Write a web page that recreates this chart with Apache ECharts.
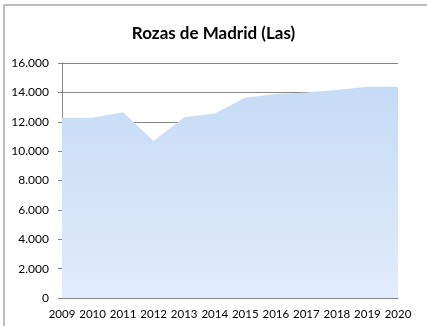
<!DOCTYPE html>
<html>
<head>
<meta charset="utf-8">
<script src="https://cdn.jsdelivr.net/npm/echarts@6/dist/echarts.min.js"></script>
<style>
  html, body { margin: 0; padding: 0; background: #fff; }
  #frame { position: absolute; left: 3px; top: 4px; width: 430px; height: 330px;
           border-left: 2px solid #bdbdbd; border-top: 2px solid #bdbdbd; box-sizing: border-box; }
  #chart { position: absolute; left: 0; top: 0; width: 427px; height: 326px; }
</style>
</head>
<body>
<div id="frame"></div>
<div id="chart"></div>
<script>
// Population by year
const years = ['2009', '2010', '2011', '2012', '2013', '2014', '2015', '2016', '2017', '2018', '2019', '2020'];
const population = [12280, 12270, 12640, 10690, 12300, 12570, 13640, 13890, 14000, 14160, 14390, 14390];
const yTicks = { min: 0, max: 16000, step: 2000 };

const font = 'Lato, "Open Sans", sans-serif';
const chart = echarts.init(document.getElementById('chart'), null, { renderer: 'canvas' });
chart.setOption({
  animation: false,
  title: {
    text: 'Rozas de Madrid (Las)',
    left: 'center',
    top: 20,
    textStyle: { fontFamily: font, fontSize: 17, fontWeight: 'bold', color: '#000' }
  },
  grid: { left: 62, right: 29, top: 63, bottom: 28 },
  xAxis: {
    type: 'category',
    data: years,
    boundaryGap: false,
    axisLine: { lineStyle: { color: '#868686', width: 1 } },
    axisTick: { show: false },
    axisLabel: { color: '#000', fontFamily: font, fontSize: 11.5, margin: 10, interval: 0 },
    splitLine: { show: false }
  },
  yAxis: {
    type: 'value',
    min: yTicks.min,
    max: yTicks.max,
    interval: yTicks.step,
    axisLine: { show: true, lineStyle: { color: '#868686', width: 1 } },
    axisTick: { show: true, length: 4, lineStyle: { color: '#868686' } },
    axisLabel: {
      color: '#000', fontFamily: font, fontSize: 12, margin: 13,
      formatter: v => v === 0 ? '0' : String(v).replace(/(\d)(?=(\d{3})+$)/g, '$1.')
    },
    splitLine: { show: true, lineStyle: { color: '#868686', width: 1 } }
  },
  series: [{
    type: 'line',
    data: population,
    symbol: 'none',
    lineStyle: { width: 0 },
    areaStyle: {
      opacity: 1,
      color: {
        type: 'linear', x: 0, y: 0, x2: 0, y2: 1,
        colorStops: [
          { offset: 0, color: '#c6dbf6' },
          { offset: 1, color: '#e1ecfb' }
        ]
      }
    },
    z: 3
  }]
});
</script>
</body>
</html>
